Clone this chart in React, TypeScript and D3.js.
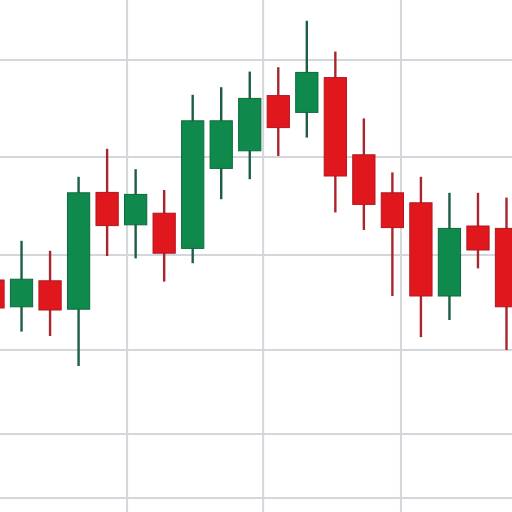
import React from "react";
import * as d3 from "d3";

const opens = [58, 51.3, 57.8, 50.7, 79.9, 71.8, 74.7, 65.9, 85.9, 90.3, 104.1, 99.9, 108.6, 89.3, 79.8, 77.3, 54, 71.5, 70.9];
const highs = [60, 67.8, 65.3, 83.8, 90.8, 85.7, 80.5, 104.3, 106.2, 110.1, 111.2, 122.8, 115.1, 98.4, 84.9, 83.8, 79.8, 79.8, 78.6];
const lows = [49, 45.1, 44, 36.5, 64, 63.4, 57.6, 62.2, 78.2, 83.2, 89, 93.6, 74.9, 70.5, 54, 43.7, 48, 60.9, 40.5];
const closes = [51, 58.2, 50.5, 79.8, 71.6, 79.4, 64.7, 97.8, 97.8, 103.4, 96.1, 109.9, 84, 76.9, 71.1, 54, 70.9, 65.5, 51.3];
const hGrid = [113, 88.75, 64.25, 40.5, 19.5, 3.5];
const vGrid = [4.7, 9.47, 14.3];

const W = 512;
const H = 512;

export default function App() {
  const x = d3.scaleLinear().domain([0, 18]).range([-7, 506.5]);
  const y = d3.scaleLinear().domain([0, 128]).range([512, 0]);
  const step = x(1) - x(0);
  const bw = step * 0.78;
  const GREEN = "#0f8a4c";
  const GREEN_D = "#0b6a3b";
  const RED = "#e0181e";
  const RED_D = "#b3161d";
  return (
    <svg width={W} height={H} style={{ position: "absolute", left: 0, top: 0, background: "#fff" }}>
      <rect width={W} height={H} fill="#fff" />
      {hGrid.map((v, i) => (
        <line key={"h" + i} x1={0} x2={W} y1={y(v)} y2={y(v)} stroke="#d3d6db" strokeWidth={2} />
      ))}
      {vGrid.map((v, i) => (
        <line key={"v" + i} x1={x(v)} x2={x(v)} y1={0} y2={H} stroke="#d3d6db" strokeWidth={2} />
      ))}
      {opens.map((o, i) => {
        const c = closes[i];
        const up = c > o;
        const cx = x(i);
        const top = y(Math.max(o, c));
        const bot = y(Math.min(o, c));
        return (
          <g key={i}>
            <line x1={cx} x2={cx} y1={y(highs[i])} y2={y(lows[i])} stroke={up ? "#1d5e42" : "#a8262d"} strokeWidth={2.4} />
            <rect x={cx - bw / 2} y={top} width={bw} height={bot - top} fill={up ? GREEN : RED} stroke={up ? GREEN_D : RED_D} strokeWidth={1} />
          </g>
        );
      })}
    </svg>
  );
}
